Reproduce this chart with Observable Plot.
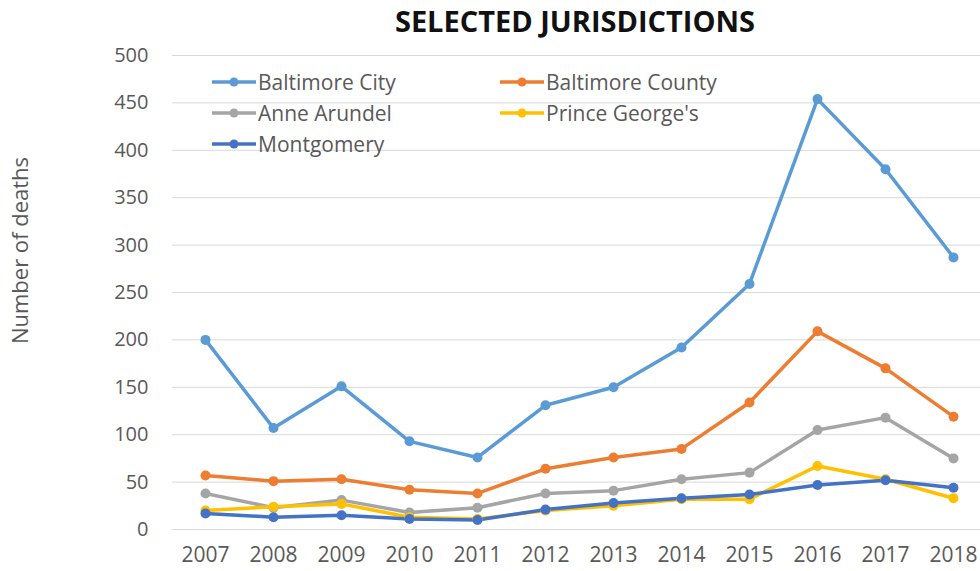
<!DOCTYPE html>
<html>
<head>
<meta charset="utf-8">
<script src="https://cdn.jsdelivr.net/npm/d3@7"></script>
<script src="https://cdn.jsdelivr.net/npm/@observablehq/plot@0.6"></script>
<style>
  html, body { margin: 0; padding: 0; background: #fff; }
  #wrap { position: relative; width: 980px; height: 571px; overflow: hidden; font-family: "Open Sans", sans-serif; }
  #title { position: absolute; left: 0; top: 0; width: 980px; height: 40px; text-align: center; padding-left: 170px; box-sizing: border-box;
           font-family: "Open Sans", sans-serif; font-weight: 700; font-size: 29px; line-height: 42px; color: #111; }
  #chart { position: absolute; left: 0; top: 40px; }
  #legend { position: absolute; left: 0; top: 0; }
  .li { position: absolute; display: flex; align-items: center; font-size: 21px; color: #595959; white-space: nowrap; }
  .li svg { margin-right: 2px; }
</style>
</head>
<body>
<div id="wrap">
  <div id="title">SELECTED JURISDICTIONS</div>
  <div id="chart"></div>
  <div id="legend"></div>
</div>
<script>
const years = [2007, 2008, 2009, 2010, 2011, 2012, 2013, 2014, 2015, 2016, 2017, 2018];
const seriesNames = ["Baltimore City", "Baltimore County", "Anne Arundel", "Prince George's", "Montgomery"];
const seriesColors = ["#5b9bd5", "#ed7d31", "#a5a5a5", "#ffc000", "#4472c4"];
const baltimoreCity   = [200, 107, 151, 93, 76, 131, 150, 192, 259, 454, 380, 287];
const baltimoreCounty = [57, 51, 53, 42, 38, 64, 76, 85, 134, 209, 170, 119];
const anneArundel     = [38, 23, 31, 18, 23, 38, 41, 53, 60, 105, 118, 75];
const princeGeorges   = [20, 24, 27, 13, 11, 20, 25, 32, 32, 67, 53, 33];
const montgomery      = [17, 13, 15, 11, 10, 21, 28, 33, 37, 47, 52, 44];
const yTicks = [0, 50, 100, 150, 200, 250, 300, 350, 400, 450, 500];

const allValues = [baltimoreCity, baltimoreCounty, anneArundel, princeGeorges, montgomery];
const rows = [];
seriesNames.forEach((name, i) => {
  years.forEach((yr, j) => rows.push({series: name, year: yr, value: allValues[i][j]}));
});

const plot = Plot.plot({
  width: 980,
  height: 531,
  marginTop: 15,
  marginBottom: 42,
  marginLeft: 172,
  marginRight: 0,
  style: {fontFamily: "Open Sans, sans-serif", fontSize: "20px", color: "#595959", background: "#fff"},
  x: {domain: [2007, 2018], range: [205, 953], label: null},
  y: {domain: [0, 500], label: null},
  color: {domain: seriesNames, range: seriesColors},
  marks: [
    Plot.ruleY(yTicks, {stroke: "#d9d9d9", strokeWidth: 1}),
    Plot.axisY({ticks: yTicks, tickSize: 0, tickPadding: 24, fontSize: 20, label: null}),
    Plot.axisX({ticks: years, tickFormat: d => String(d), tickSize: 0, tickPadding: 18, fontSize: 21, label: null}),
    Plot.line(rows, {x: "year", y: "value", z: "series", stroke: "series", strokeWidth: 3.5, curve: "linear"}),
    Plot.dot(rows, {x: "year", y: "value", fill: "series", r: 5, stroke: null}),
    Plot.text(["Number of deaths"], {frameAnchor: "left", textAnchor: "middle", rotate: -90, dx: -152, dy: -42, fontSize: 22, fill: "#595959", style: {letterSpacing: "0.5px"}})
  ]
});
document.getElementById("chart").appendChild(plot);

// legend (HTML overlay)
const legendPos = [[212, 82], [500, 82], [212, 113], [500, 113], [212, 144]];
const legend = document.getElementById("legend");
seriesNames.forEach((name, i) => {
  const div = document.createElement("div");
  div.className = "li";
  div.style.left = legendPos[i][0] + "px";
  div.style.top = (legendPos[i][1] - 14) + "px";
  div.style.height = "28px";
  div.innerHTML = `<svg width="44" height="12"><line x1="0" y1="6" x2="44" y2="6" stroke="${seriesColors[i]}" stroke-width="3.5"/><circle cx="22" cy="6" r="4.5" fill="${seriesColors[i]}"/></svg><span>${name}</span>`;
  legend.appendChild(div);
});
</script>
</body>
</html>
